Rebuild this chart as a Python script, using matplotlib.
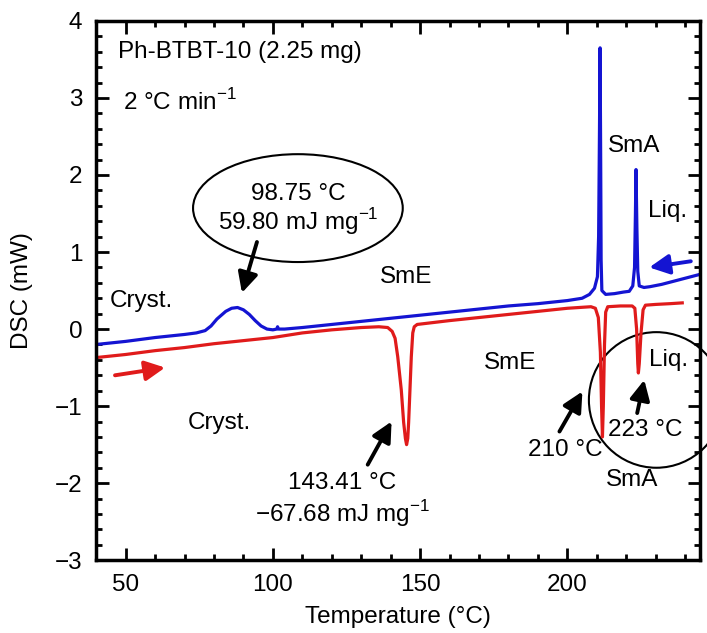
import matplotlib
matplotlib.use("Agg")
import matplotlib.pyplot as plt
from matplotlib.patches import Ellipse
from matplotlib.ticker import MultipleLocator

plt.rcParams["font.family"] = ["Liberation Sans", "DejaVu Sans"]
plt.rcParams["mathtext.fontset"] = "custom"
plt.rcParams["mathtext.rm"] = "Liberation Sans"

# DSC trace on cooling (blue)
cool_T = [40, 50, 60, 70, 74, 77, 79, 81, 84, 86, 88, 90, 92, 94, 96, 98, 100,
          101.3, 101.6, 101.9, 104, 110, 120, 130, 140, 150, 160, 170, 180,
          190, 200, 205, 207.5, 209.2, 210.2, 210.6, 210.9, 211.1, 211.3,
          211.45, 211.7, 213, 216, 219, 221, 222.2, 222.8, 223.1, 223.3,
          223.6, 223.9, 224.4, 226, 228, 232, 236, 240, 243, 245]
cool_dsc = [-0.20, -0.16, -0.11, -0.07, -0.05, -0.02, 0.04, 0.13, 0.23, 0.27,
            0.28, 0.25, 0.19, 0.11, 0.04, 0.00, -0.01, 0.00, 0.03, 0.00, 0.00,
            0.02, 0.06, 0.10, 0.14, 0.18, 0.22, 0.26, 0.30, 0.33, 0.37, 0.40,
            0.45, 0.53, 0.68, 1.20, 2.60, 3.65, 2.20, 0.90, 0.50, 0.45, 0.46,
            0.48, 0.49, 0.56, 0.80, 1.50, 2.07, 1.30, 0.75, 0.56, 0.54, 0.55,
            0.58, 0.62, 0.66, 0.69, 0.71]

# DSC trace on heating (red)
heat_T = [40, 50, 60, 70, 80, 90, 100, 110, 120, 130, 136, 139, 140.5, 141.5,
          142.4, 143.6, 144.4, 145.0, 145.4, 145.8, 146.1, 147.0, 147.5, 148,
          149, 160, 170, 180, 190, 200, 208, 209.5, 210.5, 211.2, 211.6,
          211.9, 212.2, 212.6, 213.0, 213.7, 218, 222, 222.9, 223.5, 223.9,
          224.1, 224.4, 225.0, 225.7, 226.5, 230, 235, 239]
heat_dsc = [-0.37, -0.33, -0.28, -0.24, -0.19, -0.15, -0.11, -0.05, -0.01,
            0.02, 0.03, 0.02, -0.03, -0.12, -0.36, -0.79, -1.21, -1.42, -1.50,
            -1.42, -1.21, -0.36, -0.05, 0.03, 0.06, 0.11, 0.15, 0.19, 0.23,
            0.27, 0.29, 0.27, 0.15, -0.30, -1.00, -1.40, -1.00, -0.20, 0.22,
            0.29, 0.30, 0.30, 0.27, 0.00, -0.45, -0.57, -0.45, -0.05, 0.25,
            0.31, 0.32, 0.33, 0.34]

blue = "#1414d2"
red = "#e01b1b"
fs = 17.5

fig = plt.figure(figsize=(7.07, 6.33), dpi=100)
ax = fig.add_axes([0.136, 0.115, 0.854, 0.852])

ax.plot(cool_T, cool_dsc, color=blue, lw=2.3)
ax.plot(heat_T, heat_dsc, color=red, lw=2.3)

ax.set_xlim(40, 245)
ax.set_ylim(-3, 4)
ax.xaxis.set_major_locator(MultipleLocator(50))
ax.xaxis.set_minor_locator(MultipleLocator(10))
ax.yaxis.set_major_locator(MultipleLocator(1))
ax.yaxis.set_minor_locator(MultipleLocator(0.2))
ax.tick_params(which="both", direction="in", top=True, right=True,
               labelsize=fs, width=2)
ax.tick_params(which="major", length=9, pad=10)
ax.tick_params(which="minor", length=4.5)
for s in ax.spines.values():
    s.set_linewidth(2.5)

ax.set_xlabel("Temperature (°C)", fontsize=fs)
ax.set_ylabel("DSC (mW)", fontsize=fs)
ax.xaxis.set_label_coords(0.5, -0.085)
ax.yaxis.set_label_coords(-0.105, 0.5)

# labels and notes
ax.text(47.5, 3.60, "Ph-BTBT-10 (2.25 mg)", fontsize=fs, va="center")
ax.text(49.2, 2.95, r"2 °C min$^{\mathregular{-1}}$", fontsize=fs, va="center")
ax.text(108.6, 1.75, "98.75 °C", fontsize=fs, ha="center", va="center")
ax.text(108.6, 1.39, r"59.80 mJ mg$^{\mathregular{-1}}$", fontsize=fs,
        ha="center", va="center")
ax.text(44.7, 0.36, "Cryst.", fontsize=fs, va="center")
ax.text(145.4, 0.67, "SmE", fontsize=fs, ha="center", va="center")
ax.text(222.7, 2.38, "SmA", fontsize=fs, ha="center", va="center")
ax.text(233.9, 1.53, "Liq.", fontsize=fs, ha="center", va="center")
ax.text(81.7, -1.22, "Cryst.", fontsize=fs, ha="center", va="center")
ax.text(123.6, -2.00, "143.41 °C", fontsize=fs, ha="center", va="center")
ax.text(123.6, -2.39, r"$\mathregular{-}$67.68 mJ mg$^{\mathregular{-1}}$",
        fontsize=fs, ha="center", va="center")
ax.text(180.7, -0.44, "SmE", fontsize=fs, ha="center", va="center")
ax.text(199.2, -1.57, "210 °C", fontsize=fs, ha="center", va="center")
ax.text(226.3, -1.31, "223 °C", fontsize=fs, ha="center", va="center")
ax.text(221.9, -1.96, "SmA", fontsize=fs, ha="center", va="center")
ax.text(234.2, -0.40, "Liq.", fontsize=fs, ha="center", va="center")

ax.add_patch(Ellipse((108.5, 1.57), 71.2, 1.40, fill=False, ec="k", lw=1.5))
ax.add_patch(Ellipse((230.2, -0.92), 45.8, 1.76, fill=False, ec="k", lw=1.5,
                     clip_on=False))

arrow = dict(arrowstyle="-|>,head_length=0.6,head_width=0.3", lw=2.8,
             shrinkA=0, shrinkB=0, mutation_scale=20)
for tail, head, c in [((94.6, 1.13), (89.5, 0.47), "k"),
                      ((132.2, -1.76), (140.3, -1.20), "k"),
                      ((197.3, -1.33), (205.1, -0.81), "k"),
                      ((223.7, -1.09), (226.1, -0.66), "k"),
                      ((241.9, 0.88), (227.8, 0.80), blue),
                      ((46.4, -0.60), (63.4, -0.50), red)]:
    ax.annotate("", xy=head, xytext=tail,
                arrowprops=dict(arrow, color=c))

fig.savefig("out.png", dpi=100)
